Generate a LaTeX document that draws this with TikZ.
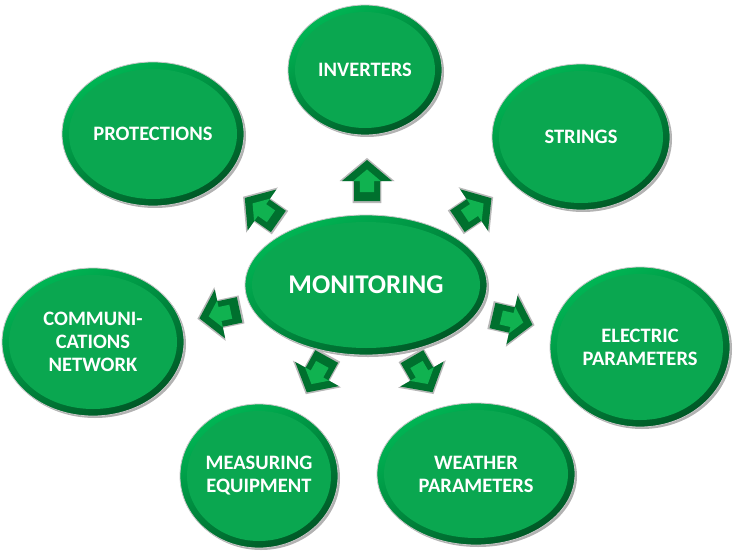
\documentclass[tikz,border=0pt]{standalone}
\usepackage{fontspec}
\setmainfont{Carlito}
\usetikzlibrary{shapes.geometric,calc}

\definecolor{bubblegreen}{RGB}{10,167,80}
\definecolor{ringlight}{RGB}{0,182,84}
\definecolor{ringdark}{RGB}{0,88,38}
\definecolor{arrowdark}{RGB}{0,112,46}
\definecolor{arrowlight}{RGB}{16,178,80}

\tikzset{
  bubble/.style={ellipse, inner sep=0pt, align=center, text=white,
    font=\fontsize{20.5}{23}\selectfont\bfseries,
    draw=black!22, line width=0.8pt,
    top color=ringlight, bottom color=ringdark, shading angle=30,
    preaction={fill=black!30, transform canvas={xshift=2pt,yshift=-2pt}},
    path picture={\fill[bubblegreen] let \p1=($(path picture bounding box.north east)-(path picture bounding box.center)$) in (path picture bounding box.center) ellipse ({\x1-7pt} and {\y1-7pt});}},
  pics/blockarrow/.style={code={
    \fill[black!28, scale=1.1] (-20,-13) -- (0,-13) -- (0,-25) -- (21,0) -- (0,25) -- (0,13) -- (-20,13) -- cycle;
    \fill[arrowdark] (-20,-13) -- (0,-13) -- (0,-25) -- (21,0) -- (0,25) -- (0,13) -- (-20,13) -- cycle;
    \fill[arrowlight, scale=0.55] (-20,-13) -- (0,-13) -- (0,-25) -- (21,0) -- (0,25) -- (0,13) -- (-20,13) -- cycle;
  }}
}

\begin{document}
\begin{tikzpicture}[x=1pt, y=-1pt]
  \useasboundingbox (0,0) rectangle (735,551);

  % outer bubbles
  \node[bubble, minimum width=154pt, minimum height=130pt] (inv) at (365,70) {INVERTERS};
  \node[bubble, minimum width=182pt, minimum height=144pt] (prot) at (153,134) {PROTECTIONS};
  \node[bubble, minimum width=178pt, minimum height=146pt] (str) at (581,137) {STRINGS};
  \node[bubble, minimum width=182pt, minimum height=148pt] (comm) at (93,342) {COMMUNI-\\CATIONS\\NETWORK};
  \node[bubble, minimum width=180pt, minimum height=160pt] (elec) at (640,347) {ELECTRIC\\PARAMETERS};
  \node[bubble, minimum width=158pt, minimum height=144pt] (meas) at (259,476) {MEASURING\\EQUIPMENT};
  \node[bubble, minimum width=198pt, minimum height=142pt] (weat) at (476,474) {WEATHER\\PARAMETERS};

  % centre
  \node[bubble, minimum width=242pt, minimum height=140pt, font=\fontsize{27}{30}\selectfont\bfseries] (mon) at (366,285) {MONITORING};

  % block arrows
  \pic[rotate=90] at (367,181) {blockarrow};
  \pic[rotate=145] at (262,210) {blockarrow};
  \pic[rotate=34] at (474,210) {blockarrow};
  \pic[rotate=-13] at (512,320) {blockarrow};
  \pic[rotate=192] at (220,314) {blockarrow};
  \pic[rotate=241] at (317,374) {blockarrow};
  \pic[rotate=-60] at (422,374) {blockarrow};
\end{tikzpicture}
\end{document}
